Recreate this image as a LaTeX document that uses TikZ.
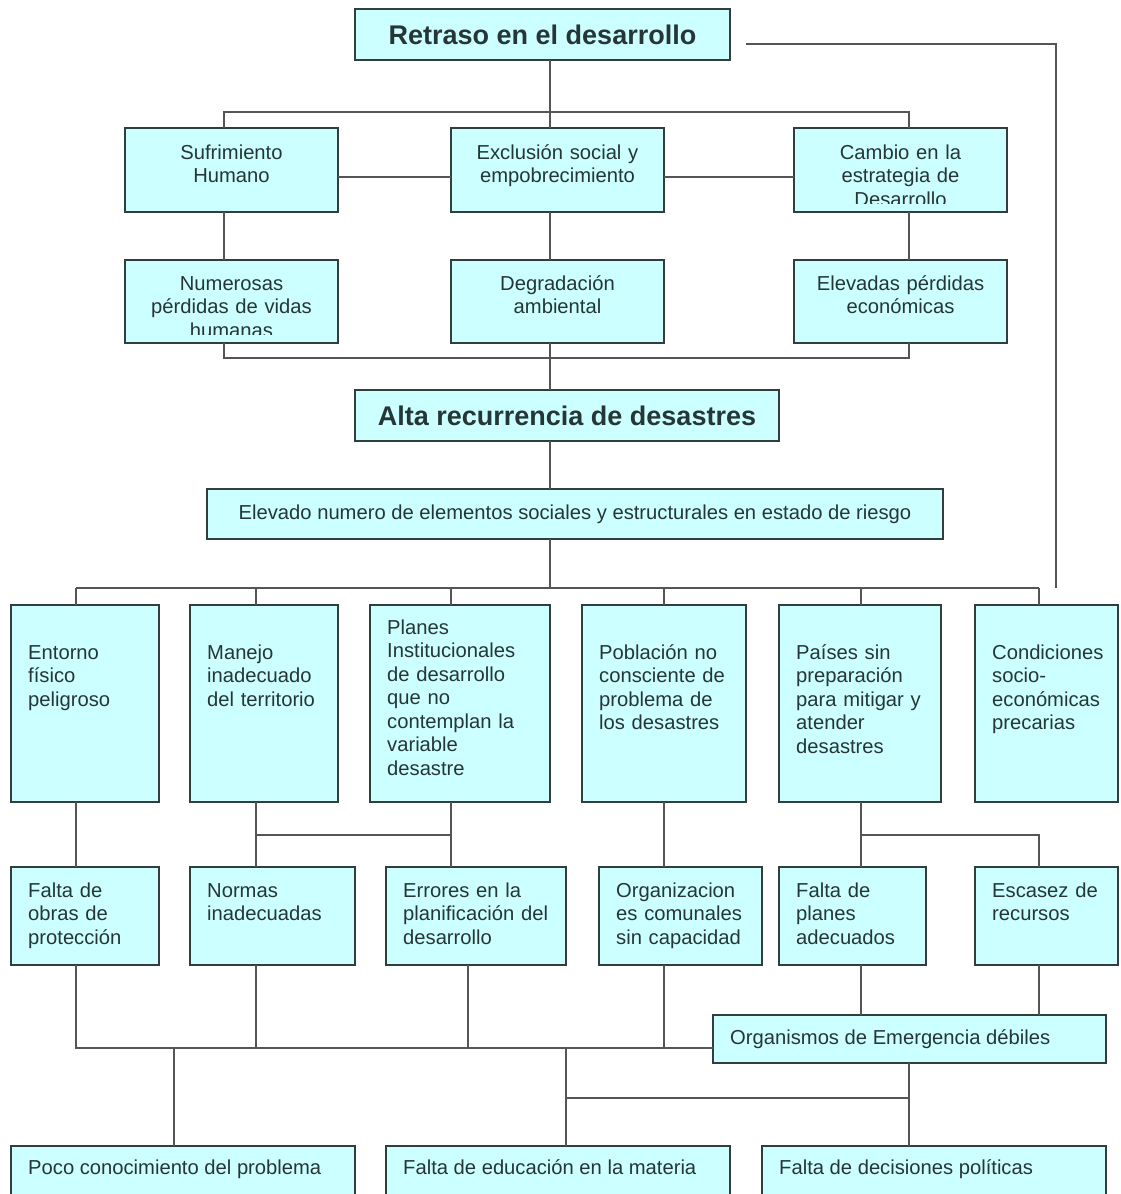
\documentclass[tikz,border=0pt]{standalone}
\usepackage{fontspec}
\setmainfont{Liberation Sans}
\usepackage{tikz}
\usetikzlibrary{calc}

\definecolor{boxfill}{RGB}{204,255,255}
\definecolor{boxline}{RGB}{50,62,62}
\definecolor{inkcol}{RGB}{38,54,54}
\definecolor{wirecol}{RGB}{85,85,85}

\begin{document}
\begin{tikzpicture}[x=1pt,y=-1pt,
  box/.style={draw=boxline, fill=boxfill, line width=1.6pt, inner sep=0pt, outer sep=0pt, anchor=north west},
  txt/.style={text=inkcol, inner sep=0pt, font=\fontsize{20.2}{23.5}\selectfont},
  head/.style={text=inkcol, font=\fontsize{27}{30}\selectfont\bfseries},
  wire/.style={draw=wirecol, line width=1.6pt}]

  \useasboundingbox (0,0) rectangle (1120,1194);

  %% Top of the tree
  \node[box, head, minimum width=375pt, minimum height=51pt] (retraso) at (355,9) {Retraso en el desarrollo};

  %% Effects, first row
  \foreach \nm/\cx/\lbl in {sufri/125/{Sufrimiento\\Humano}, exclu/451/{Exclusión social y\\empobrecimiento}}
  {
    \node[box, minimum width=213pt, minimum height=84pt] (\nm) at (\cx,128) {};
    \node[txt, text width=200pt, align=center, anchor=base] (\nm-t) at ($(\nm.north)+(0,31)$) {\lbl};
  }
  \node[box, minimum width=213pt, minimum height=84pt] (cambio) at (794,128) {};
  \begin{scope}
    \clip (cambio.north west) rectangle ($(cambio.south east)+(0,-9)$);
    \node[txt, text width=200pt, align=center, anchor=base] (cambio-t) at ($(cambio.north)+(0,31)$) {Cambio en la\\estrategia de\\Desarrollo};
  \end{scope}

  %% Effects, second row
  \node[box, minimum width=213pt, minimum height=83pt] (numer) at (125,260) {};
  \begin{scope}
    \clip (numer.north west) rectangle ($(numer.south east)+(0,-9)$);
    \node[txt, text width=200pt, align=center, anchor=base] (numer-t) at ($(numer.north)+(0,30)$) {Numerosas\\pérdidas de vidas\\humanas};
  \end{scope}
  \foreach \nm/\cx/\lbl in {degra/451/{Degradación\\ambiental}, elev/794/{Elevadas pérdidas\\económicas}}
  {
    \node[box, minimum width=213pt, minimum height=83pt] (\nm) at (\cx,260) {};
    \node[txt, text width=200pt, align=center, anchor=base] (\nm-t) at ($(\nm.north)+(0,30)$) {\lbl};
  }

  %% Central problem
  \node[box, head, minimum width=424pt, minimum height=51pt] (alta) at (355,390) {Alta recurrencia de desastres};
  \node[box, txt, minimum width=736pt, minimum height=50pt] (riesgo) at (207,489) {Elevado numero de elementos sociales y estructurales en estado de riesgo};

  %% Causes, third row
  \foreach \nm/\cx/\bw/\dy/\lbl in {
      entorno/11/148/54/{Entorno\\físico\\peligroso},
      manejo/190/148/54/{Manejo\\inadecuado\\del territorio},
      planes/370/180/29/{Planes\\Institucionales\\de desarrollo\\que no\\contemplan la\\variable\\desastre},
      poblac/582/164/54/{Población no\\consciente de\\problema de\\los desastres},
      paises/779/162/54/{Países sin\\preparación\\para mitigar y\\atender\\desastres},
      condic/975/143/54/{Condiciones\\socio-\\económicas\\precarias}}
  {
    \node[box, minimum width=\bw pt, minimum height=197pt] (\nm) at (\cx,605) {};
    \node[txt, text width=180pt, align=left, anchor=base west] (\nm-t) at ($(\nm.north west)+(17,\dy)$) {\lbl};
  }

  %% Causes, fourth row
  \foreach \nm/\cx/\bw/\lbl in {
      fobras/11/148/{Falta de\\obras de\\protección},
      normas/190/165/{Normas\\inadecuadas},
      errores/386/180/{Errores en la\\planificación del\\desarrollo},
      organiz/599/163/{Organizacion\\es comunales\\sin capacidad},
      fplanes/779/147/{Falta de\\planes\\adecuados},
      escasez/975/143/{Escasez de\\recursos}}
  {
    \node[box, minimum width=\bw pt, minimum height=98pt] (\nm) at (\cx,867) {};
    \node[txt, text width=180pt, align=left, anchor=base west] (\nm-t) at ($(\nm.north west)+(17,30)$) {\lbl};
  }

  \node[box, minimum width=393pt, minimum height=48pt] (organis) at (713,1015) {};
  \node[txt, anchor=west] (organis-t) at ($(organis.west)+(17,0)$) {Organismos de Emergencia débiles};

  %% Root causes
  \foreach \nm/\cx/\lbl in {poco/11/{Poco conocimiento del problema}, feduc/386/{Falta de educación en la materia}, fdecis/762/{Falta de decisiones políticas}}
  {
    \node[box, minimum width=344pt, minimum height=60pt] (\nm) at (\cx,1146) {};
    \node[txt, anchor=base west] (\nm-t) at ($(\nm.north west)+(17,28)$) {\lbl};
  }

  %% Junction points of the connectors
  \coordinate (k1) at (550,112);
  \coordinate (k1l) at (224,112);
  \coordinate (k1r) at (909,112);
  \coordinate (k2) at (550,358);
  \coordinate (h1) at (0,177);
  \coordinate (k3) at (550,588);
  \coordinate (c1) at (76,588);
  \coordinate (c2) at (256,588);
  \coordinate (c3) at (451,588);
  \coordinate (c4) at (664,588);
  \coordinate (c5) at (861,588);
  \coordinate (c6) at (1039,588);
  \coordinate (d3) at (468,0);
  \coordinate (k4) at (0,835);
  \coordinate (k5) at (0,1048);
  \coordinate (e1) at (174,1048);
  \coordinate (e2) at (566,1048);
  \coordinate (k6) at (0,1098);
  \coordinate (e3) at (909,1098);
  \coordinate (rA) at (746,44);
  \coordinate (rB) at (1056,588);

  %% Upper tree
  \draw[wire] (k1 |- retraso.south) -- (k1 |- exclu.north);
  \draw[wire] (k1l |- sufri.north) |- (k1r) -- (k1r |- cambio.north);
  \draw[wire] (sufri.east |- h1) -- (exclu.west |- h1);
  \draw[wire] (exclu.east |- h1) -- (cambio.west |- h1);
  \foreach \ka/\kb/\kc in {k1l/sufri/numer, k1/exclu/degra, k1r/cambio/elev}
    \draw[wire] (\ka |- \kb.south) -- (\ka |- \kc.north);
  \draw[wire] (k1l |- numer.south) |- (k1r |- k2) -- (k1r |- elev.south);
  \draw[wire] (k1 |- degra.south) -- (k1 |- alta.north);
  \draw[wire] (k1 |- alta.south) -- (k1 |- riesgo.north);
  \draw[wire] (k1 |- riesgo.south) -- (k3);
  \draw[wire] (rA) -| (rB);

  %% Lower tree
  \draw[wire] (c1) -- (c6);
  \foreach \ka/\kb in {c1/entorno, c2/manejo, c3/planes, c4/poblac, c5/paises, c6/condic}
    \draw[wire] (\ka) -- (\ka |- \kb.north);
  \draw[wire] (c1 |- entorno.south) -- (c1 |- fobras.north);
  \draw[wire] (c2 |- manejo.south) -- (c2 |- normas.north);
  \draw[wire] (c3 |- planes.south) -- (c3 |- errores.north);
  \draw[wire] (c2 |- k4) -- (c3 |- k4);
  \draw[wire] (c4 |- poblac.south) -- (c4 |- organiz.north);
  \draw[wire] (c5 |- paises.south) -- (c5 |- fplanes.north);
  \draw[wire] (c5 |- k4) -| (c6 |- escasez.north);

  \draw[wire] (c1 |- fobras.south) |- (organis.west |- k5);
  \foreach \ka/\kb in {c2/normas, d3/errores, c4/organiz}
    \draw[wire] (\ka |- \kb.south) -- (\ka |- k5);
  \draw[wire] (c5 |- fplanes.south) -- (c5 |- organis.north);
  \draw[wire] (c6 |- escasez.south) -- (c6 |- organis.north);
  \draw[wire] (e1) -- (e1 |- poco.north);
  \draw[wire] (e2) -- (e2 |- feduc.north);
  \draw[wire] (e2 |- k6) -- (e3);
  \draw[wire] (e3 |- organis.south) -- (e3 |- fdecis.north);
\end{tikzpicture}
\end{document}
